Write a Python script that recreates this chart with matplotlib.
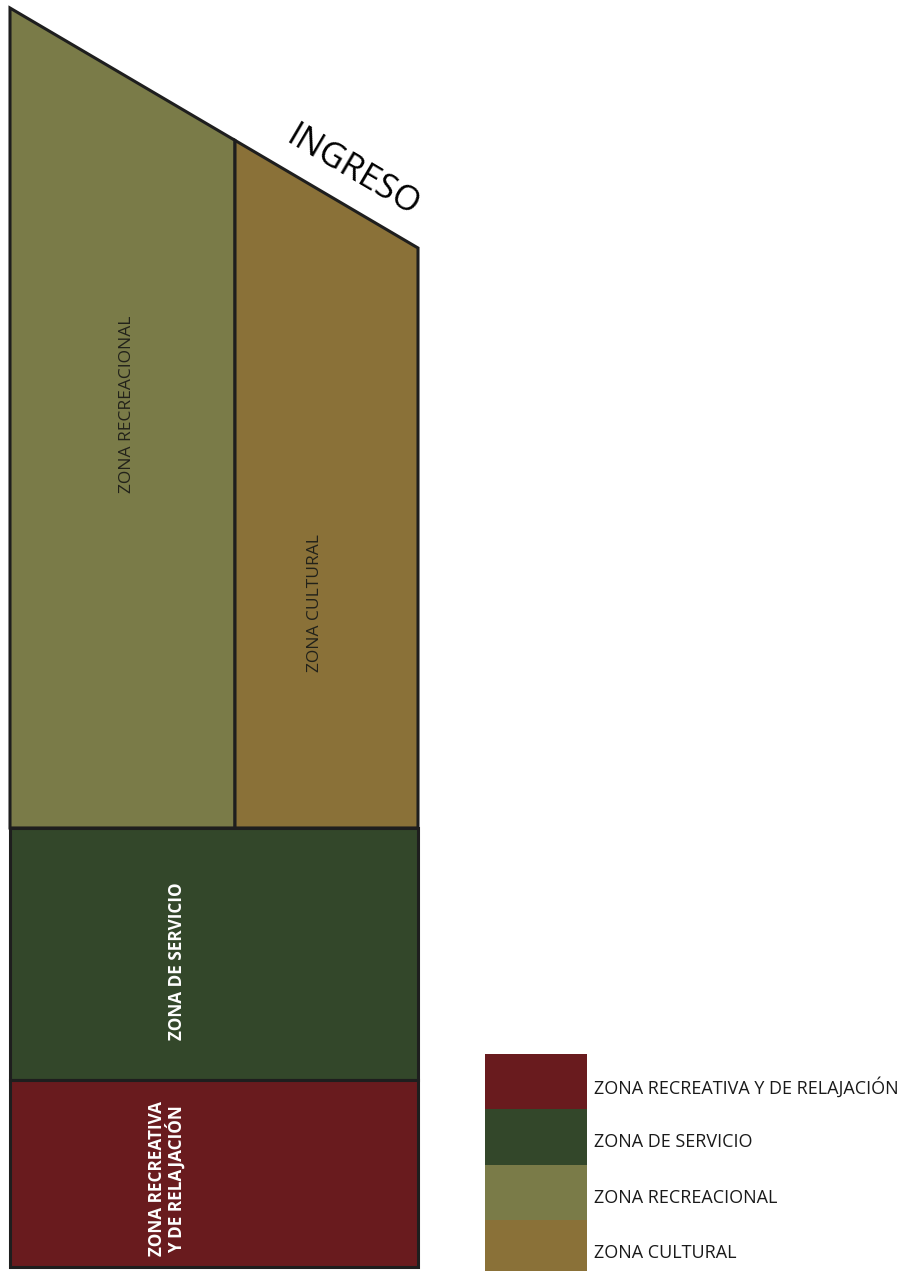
import matplotlib
matplotlib.use("Agg")
import matplotlib.pyplot as plt
from matplotlib.patches import Polygon, Rectangle
import math

# ---- data ----
zones = ["ZONA RECREATIVA Y DE RELAJACIÓN", "ZONA DE SERVICIO",
         "ZONA RECREACIONAL", "ZONA CULTURAL"]
zone_colors = ["#691b1e", "#33472a", "#7a7b48", "#8a7138"]
plan_labels = ["ZONA RECREATIVA\nY DE RELAJACIÓN", "ZONA DE SERVICIO",
               "ZONA RECREACIONAL", "ZONA CULTURAL"]
label_colors = ["white", "white", "#22221a", "#22221a"]
entrance_label = "INGRESO"

# plan geometry (pixel units)
x_left, x_mid, x_right = 10, 235, 418
y_top_left, y_top_right = 8, 248
y_split1, y_split2, y_bottom = 828, 1080, 1267

W, H = 912, 1271
fig = plt.figure(figsize=(W / 100, H / 100), dpi=100)
ax = fig.add_axes([0, 0, 1, 1])
ax.set_xlim(0, W)
ax.set_ylim(H, 0)
ax.axis("off")

slope = (y_top_right - y_top_left) / (x_right - x_left)
y_mid_top = y_top_left + slope * (x_mid - x_left)
ec = "#1e1e1e"
lw = 2.2

ax.add_patch(Polygon([(x_left, y_top_left), (x_mid, y_mid_top), (x_mid, y_split1), (x_left, y_split1)],
                     closed=True, facecolor=zone_colors[2], edgecolor=ec, lw=lw, joinstyle="miter"))
ax.add_patch(Polygon([(x_mid, y_mid_top), (x_right, y_top_right), (x_right, y_split1), (x_mid, y_split1)],
                     closed=True, facecolor=zone_colors[3], edgecolor=ec, lw=lw, joinstyle="miter"))
ax.add_patch(Rectangle((x_left, y_split1), x_right - x_left, y_split2 - y_split1,
                       facecolor=zone_colors[1], edgecolor=ec, lw=lw))
ax.add_patch(Rectangle((x_left, y_split2), x_right - x_left, y_bottom - y_split2,
                       facecolor=zone_colors[0], edgecolor=ec, lw=lw))

font = "Open Sans"
ax.text(127, 404, plan_labels[2], rotation=90, ha="center", va="center",
        fontsize=12.5, color=label_colors[2], family=font)
ax.text(315, 603, plan_labels[3], rotation=90, ha="center", va="center",
        fontsize=12.5, color=label_colors[3], family=font)
ax.text(177, 961, plan_labels[1], rotation=90, ha="center", va="center",
        fontsize=12.3, color=label_colors[1], family=font, fontweight="bold")
ax.text(167, 1179, plan_labels[0], rotation=90, ha="center", va="center",
        fontsize=12.3, color=label_colors[0], family=font, fontweight="bold",
        multialignment="center", linespacing=1.0)

ang = math.degrees(math.atan(slope))
ax.text(353, 172, entrance_label, rotation=-ang, rotation_mode="anchor",
        ha="center", va="center", fontsize=25, color="black", family=font)

leg_x, leg_w = 485, 102
leg_top, leg_h = 1054, 55.3
for i, (z, c) in enumerate(zip(zones, zone_colors)):
    y0 = leg_top + i * leg_h
    ax.add_patch(Rectangle((leg_x, y0), leg_w, leg_h, facecolor=c, edgecolor="none"))
    ax.text(594, y0 + leg_h * 0.6, z, ha="left", va="center", fontsize=13,
            color="#1a1a1a", family=font)

fig.savefig("out.png", dpi=100)
